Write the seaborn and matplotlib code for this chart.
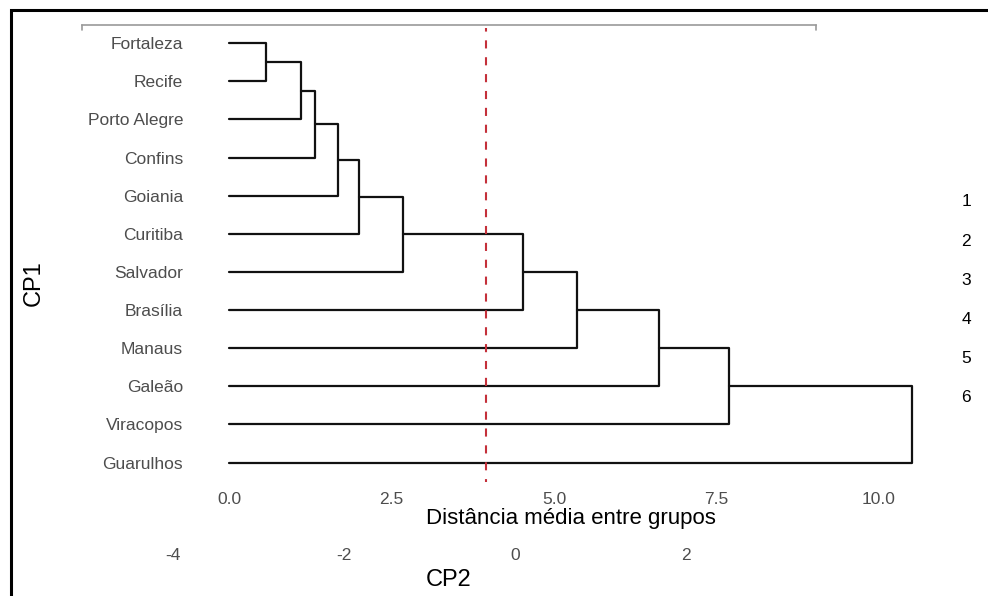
import numpy as np
import pandas as pd
import matplotlib
matplotlib.use('Agg')
import matplotlib.pyplot as plt
import matplotlib.patches as mpatches
import seaborn as sns

# leaves from top to bottom, and the agglomeration (average linkage) steps
leaves = ['Fortaleza', 'Recife', 'Porto Alegre', 'Confins', 'Goiania', 'Curitiba',
          'Salvador', 'Brasília', 'Manaus', 'Galeão', 'Viracopos', 'Guarulhos']
# each merge joins node a and node b (leaf index or 'c<k>' for the k-th cluster)
merge_a = [0, 'c0', 'c1', 'c2', 'c3', 'c4', 'c5', 'c6', 'c7', 'c8', 'c9']
merge_b = [1, 2, 3, 4, 5, 6, 7, 8, 9, 10, 11]
merge_h = [0.565, 1.10, 1.33, 1.67, 2.00, 2.68, 4.53, 5.35, 6.61, 7.69, 10.51]
cut_height = 3.96
cluster_labels = ['1', '2', '3', '4', '5', '6']

x_ticks = [0.0, 2.5, 5.0, 7.5, 10.0]
cp2_ticks = [-4, -2, 0, 2]

# build dendrogram segments
pos = {i: (0.0, i + 1) for i in range(len(leaves))}
rows = []
for k, (a, b, h) in enumerate(zip(merge_a, merge_b, merge_h)):
    ha, ya = pos[a]
    hb, yb = pos[b]
    for j, (xx, yy) in enumerate([(ha, ya), (h, ya), (h, yb), (hb, yb)]):
        rows.append({'link': k, 'order': j, 'x': xx, 'y': yy})
    pos['c%d' % k] = (h, (ya + yb) / 2)
seg = pd.DataFrame(rows)

sns.set_style('white')
plt.rcParams['font.family'] = ['Liberation Sans', 'DejaVu Sans']
plt.rcParams['text.color'] = 'black'
plt.rcParams['axes.labelcolor'] = 'black'

W, H = 988, 596
fig = plt.figure(figsize=(W / 100, H / 100), dpi=100)

def frac(l, r, t, b):
    return [l / W, 1 - b / H, (r - l) / W, (b - t) / H]

# background PCA-style axis (CP1 / CP2)
bg = fig.add_axes(frac(82, 816, 25, 541))
bg.set_xlim(-5.064, 3.52)
bg.set_xticks(cp2_ticks)
bg.set_xticklabels([str(t) for t in cp2_ticks])
bg.set_yticks([])
for s in ['left', 'right', 'bottom']:
    bg.spines[s].set_visible(False)
bg.spines['top'].set_color('#9a9a9a')
bg.spines['top'].set_linewidth(1.2)
bg.plot([0, 0], [1, 0.99], transform=bg.transAxes, color='#9a9a9a', lw=1.2, clip_on=False)
bg.plot([1, 1], [1, 0.99], transform=bg.transAxes, color='#9a9a9a', lw=1.2, clip_on=False)
bg.tick_params(axis='x', length=0, pad=5, labelsize=12.5, labelcolor='#4d4d4d')
bg.set_xlabel('CP2', fontsize=17, labelpad=4)
bg.set_ylabel('CP1', fontsize=17, labelpad=27)
bg.patch.set_alpha(0)

# dendrogram
ax = fig.add_axes(frac(195, 946, 28, 482))
ax.patch.set_alpha(0)
sns.lineplot(data=seg, x='x', y='y', units='link', estimator=None, sort=False,
             color='#111111', lw=1.6, ax=ax, legend=False)
ax.axvline(cut_height, color='#c4303a', lw=1.5, ls=(2.5, (3.9, 4.2)))
ax.set_xlim(-0.523, 11.03)
ax.set_ylim(12.51, 0.6)
ax.set_yticks(range(1, len(leaves) + 1))
ax.set_yticklabels(leaves)
ax.set_xticks(x_ticks)
ax.set_xticklabels(['%.1f' % t for t in x_ticks])
ax.tick_params(length=0, labelsize=12.5, labelcolor='#4d4d4d')
ax.tick_params(axis='y', pad=8.5)
ax.tick_params(axis='x', pad=7)
ax.set_xlabel('Distância média entre grupos', fontsize=16, labelpad=1)
ax.set_ylabel('')
sns.despine(ax=ax, left=True, bottom=True)

# cluster numbers on the right
for i, lab in enumerate(cluster_labels):
    fig.text(966 / W, 1 - (202 + i * 39.2) / H, lab, ha='center', va='center', fontsize=12.5)

# outer black frame
fig.patches.append(mpatches.Rectangle((11 / W, -0.2), 1.2, 1.2 - 10 / H,
                                      transform=fig.transFigure, fill=False,
                                      edgecolor='black', lw=2.2))

fig.savefig('out.png', dpi=100)
